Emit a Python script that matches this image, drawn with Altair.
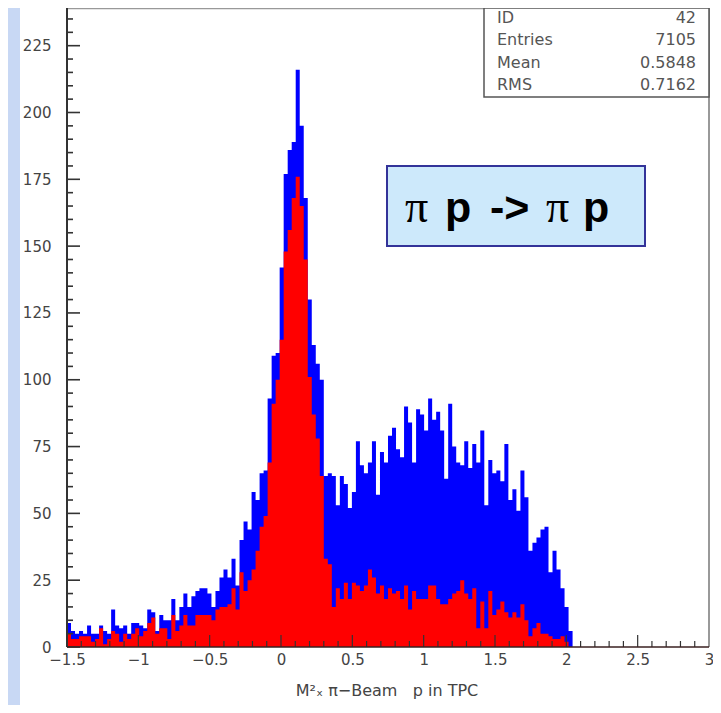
import altair as alt
import pandas as pd
import numpy as np

# ---------------- data ----------------
X_MIN, X_MAX = -1.5, 3.0
N_BINS = 160
BIN_W = (X_MAX - X_MIN) / N_BINS

blue_counts = [
    9, 6, 5, 6, 5, 8, 5, 5, 8, 6, 5, 14, 8, 7, 8, 5, 9, 9, 8, 7,
    14, 13, 6, 12, 10, 10, 18, 10, 15, 20, 15, 19, 21, 22,
    22, 20, 15, 21, 26, 29, 26, 33, 23, 40, 47, 44, 58, 55, 65, 66, 93, 109, 110,
    142, 177, 186, 189, 216, 195, 168, 130, 113, 106, 100,
    64, 65, 64, 53, 64, 61, 52, 58, 77, 68, 65, 69, 77, 57, 73, 69, 79, 82, 74, 71,
    90, 84, 69, 89, 87, 81, 93, 85, 88, 81, 63, 91,
    75, 69, 68, 77, 67, 76, 69, 81, 53, 70, 65, 66, 62, 76, 55, 59, 51, 66, 56, 36,
    39, 41, 44, 45, 28, 36, 29, 22, 15, 6,
]
red_counts = [
    5, 3, 3, 4, 4, 4, 2, 3, 7, 1, 3, 6, 5, 2, 5, 3, 5, 7, 4, 6,
    9, 11, 5, 7, 7, 3, 12, 6, 8, 12, 8, 8, 12, 12,
    12, 12, 10, 14, 15, 15, 16, 22, 14, 28, 21, 25, 29, 36, 45, 49, 69, 91, 100,
    115, 148, 156, 168, 176, 165, 145, 101, 87, 78, 64,
    33, 31, 15, 22, 18, 24, 18, 24, 23, 21, 23, 29, 26, 20, 23, 18, 22, 20, 21, 18,
    23, 14, 21, 18, 18, 18, 23, 23, 18, 16, 16, 18,
    20, 21, 25, 20, 18, 22, 7, 17, 7, 21, 12, 14, 17, 13, 11, 13, 11, 16, 10, 4,
    7, 9, 5, 5, 4, 3, 3, 4, 2, 0,
]

x_major = [-1.5, -1, -0.5, 0, 0.5, 1, 1.5, 2, 2.5, 3]
y_major = [0, 25, 50, 75, 100, 125, 150, 175, 200, 225]
y_top = 239.1

stats_labels = ["ID", "Entries", "Mean", "RMS"]
stats_values = ["42", "7105", "0.5848", "0.7162"]

x_title = "M\u00b2\u2093 \u03c0\u2212Beam\u00a0\u00a0\u00a0p in TPC"
reaction_parts = ["\u03c0", "p", "->", "\u03c0", "p"]

# ---------------- geometry / style ----------------
W, H = 642, 639
FONT = "DejaVu Sans"


def hist_frame(counts):
    xs = [X_MIN + i * BIN_W for i in range(len(counts))] + [X_MIN + len(counts) * BIN_W]
    ys = list(counts) + [0]
    return pd.DataFrame({"x": xs, "n": ys})


blue_df = hist_frame(blue_counts)
red_df = hist_frame(red_counts)

x_minor = [float(v) for v in np.round(np.arange(X_MIN, X_MAX + 1e-9, 0.1), 2)
           if not any(abs(v - m) < 1e-6 for m in x_major)]
y_minor = [v for v in range(0, 240, 5) if v % 25 != 0]

xs = alt.Scale(domain=[X_MIN, X_MAX], nice=False, zero=False)
ys = alt.Scale(domain=[0, y_top], nice=False, zero=True)

xaxis = alt.Axis(values=x_major, format="~g", ticks=False, tickSize=0, domain=False,
                 grid=False, labelPadding=5, labelFontSize=15, labelFont=FONT,
                 labelColor="#444", title=None, labelFlush=False, zindex=2)
yaxis = alt.Axis(values=y_major, ticks=False, tickSize=0, domain=False, grid=False,
                 labelPadding=16, labelFontSize=15, labelFont=FONT, labelColor="#444",
                 title=None, zindex=2)

one = pd.DataFrame({"a": [0]})
base1 = alt.Chart(one)


def prect(x, x2, y, y2, **kw):
    return base1.mark_rect(**kw).encode(
        x=alt.value(x), x2=alt.value(x2), y=alt.value(y), y2=alt.value(y2))


def prule(color, width, **enc):
    return base1.mark_rule(color=color, strokeWidth=width).encode(
        **{k: alt.value(v) for k, v in enc.items()})


panel = prect(-47, 646, -10, 700, color="white")

blue = alt.Chart(blue_df).mark_area(interpolate="step-after", color="#0000ff").encode(
    x=alt.X("x:Q", scale=xs, axis=xaxis), y=alt.Y("n:Q", scale=ys, axis=yaxis))
red = alt.Chart(red_df).mark_area(interpolate="step-after", color="#ff0000").encode(
    x=alt.X("x:Q", scale=xs, axis=xaxis), y=alt.Y("n:Q", scale=ys, axis=yaxis))

ymaj_t = alt.Chart(pd.DataFrame({"v": y_major})).mark_rule(color="#333", strokeWidth=1.6).encode(
    y=alt.Y("v:Q", scale=ys, axis=yaxis), x=alt.value(0), x2=alt.value(13))
ymin_t = alt.Chart(pd.DataFrame({"v": y_minor})).mark_rule(color="#333", strokeWidth=1.6).encode(
    y=alt.Y("v:Q", scale=ys, axis=yaxis), x=alt.value(0), x2=alt.value(6))
xmaj_t = alt.Chart(pd.DataFrame({"v": x_major})).mark_rule(color="#333", strokeWidth=1.2).encode(
    x=alt.X("v:Q", scale=xs, axis=xaxis), y=alt.value(H), y2=alt.value(H - 12))
xmin_t = alt.Chart(pd.DataFrame({"v": x_minor})).mark_rule(color="#333", strokeWidth=1.2).encode(
    x=alt.X("v:Q", scale=xs, axis=xaxis), y=alt.value(H), y2=alt.value(H - 6))

frame = [
    prule("#999", 1.5, x=0, x2=W, y=0.5),
    prule("#999", 2, x=W, y=0, y2=H),
    prule("#333", 2, x=0, y=0, y2=H),
    prule("#3a2020", 1.5, x=0, x2=W, y=H),
]

stats_box = prect(417, W, 0, 89, fill="white", stroke="#555", strokeWidth=1.5)
stats_text = []
row_y = [10, 32, 55, 77]
for lab, val, yy in zip(stats_labels, stats_values, row_y):
    stats_text.append(base1.mark_text(text=lab, align="left", baseline="middle", font=FONT,
                                      fontSize=16, color="#555").encode(
        x=alt.value(430), y=alt.value(yy)))
    stats_text.append(base1.mark_text(text=val, align="right", baseline="middle", font=FONT,
                                      fontSize=16, color="#555").encode(
        x=alt.value(629), y=alt.value(yy)))

react_box = prect(320, 578, 158, 238, fill="#cde9fb", stroke="#333399", strokeWidth=2)
react_x = [338, 378, 423, 479, 516]
react_text = []
for part, xx in zip(reaction_parts, react_x):
    if part == "\u03c0":
        mk = base1.mark_text(text=part, align="left", baseline="alphabetic",
                             font="Liberation Serif", fontSize=46, color="black")
    else:
        mk = base1.mark_text(text=part, align="left", baseline="alphabetic",
                             font="Liberation Sans", fontWeight="bold", fontSize=43,
                             color="black")
    react_text.append(mk.encode(x=alt.value(xx), y=alt.value(214)))

title = base1.mark_text(text=x_title, align="center", baseline="middle", font=FONT,
                        fontSize=16, color="#444").encode(x=alt.value(320), y=alt.value(683))

chart = alt.layer(
    panel, react_box, blue, red, ymaj_t, ymin_t, xmaj_t, xmin_t, *frame,
    stats_box, *stats_text, *react_text, title,
).properties(
    width=W, height=H,
    autosize=alt.AutoSizeParams(type="none"),
    padding={"left": 59, "top": 0, "right": 4, "bottom": 58},
    background="#c8d8f4",
).configure_view(strokeWidth=0)

chart.save("out.html", embed_options={"renderer": "svg", "actions": False})
